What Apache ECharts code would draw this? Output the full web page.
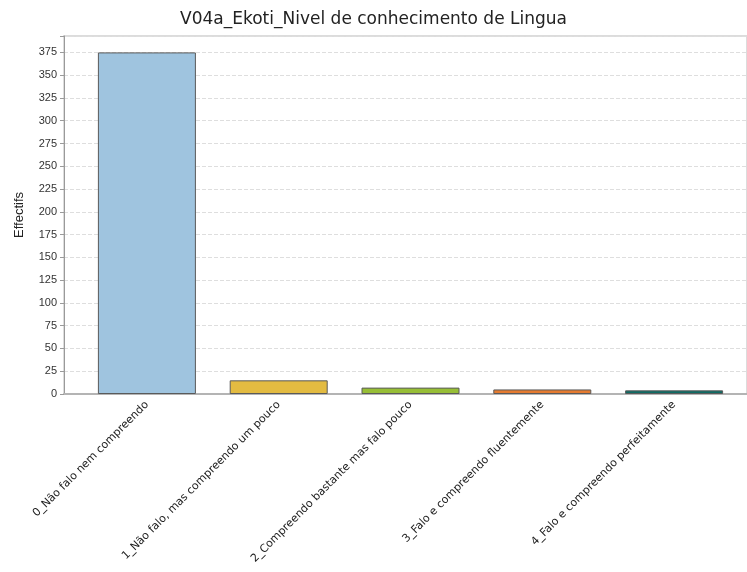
<!DOCTYPE html>
<html>
<head>
<meta charset="utf-8">
<script src="https://cdn.jsdelivr.net/npm/echarts@6/dist/echarts.min.js"></script>
<style>
  html, body { margin: 0; padding: 0; background: #fff; }
  #chart { width: 747px; height: 572px; }
</style>
</head>
<body>
<div id="chart"></div>
<script>
// ====== data ======
const categories = [
  "0_Não falo nem compreendo",
  "1_Não falo, mas compreendo um pouco",
  "2_Compreendo bastante mas falo pouco",
  "3_Falo e compreendo fluentemente",
  "4_Falo e compreendo perfeitamente"
];
const counts = [375, 15, 7, 5, 4];
const barColors = ["#9fc4df", "#e3bb41", "#97be36", "#e57b30", "#0f6b64"];

const yMax = 393;

const chart = echarts.init(document.getElementById("chart"));

const option = {
  animation: false,
  title: {
    text: "V04a_Ekoti_Nivel de conhecimento de Lingua",
    left: "center",
    top: 6,
    textStyle: { fontFamily: "DejaVu Sans", fontSize: 17, fontWeight: "normal", color: "#222" }
  },
  grid: [
    // frame grid: spans from the y axis to the right edge
    { left: 64, right: -4, top: 36, bottom: 178, show: true, borderColor: "#dcdcdc", borderWidth: 2 },
    // bars grid
    { left: 81, right: 7, top: 36, bottom: 178 }
  ],
  xAxis: [
    {
      type: "value", gridIndex: 0, min: 0, max: 1,
      axisLine: { show: true, lineStyle: { color: "#b4b4b4", width: 2 } },
      axisTick: { show: false },
      axisLabel: { show: false },
      splitLine: { show: false }
    },
    {
      type: "category", gridIndex: 1, data: categories,
      axisLine: { show: false },
      axisTick: { show: false },
      axisLabel: {
        rotate: 45, margin: 9, interval: 0,
        fontFamily: "DejaVu Sans", fontSize: 11, color: "#222"
      }
    }
  ],
  yAxis: [
    {
      type: "value", gridIndex: 0, min: 0, max: yMax, interval: 25,
      name: "Effectifs", nameLocation: "middle", nameGap: 38,
      nameTextStyle: { fontFamily: "Liberation Sans", fontSize: 13, color: "#222" },
      axisLine: { show: true, lineStyle: { color: "#9a9a9a" } },
      axisTick: { show: true, length: 4, lineStyle: { color: "#9a9a9a" } },
      axisLabel: {
        margin: 7, fontFamily: "Liberation Sans", fontSize: 11, color: "#333",
        formatter: (v) => (v % 25 === 0 ? String(v) : "")
      },
      splitLine: { show: true, lineStyle: { type: "dashed", color: "#dedede" } }
    },
    {
      type: "value", gridIndex: 1, min: 0, max: yMax, show: false
    }
  ],
  series: [
    {
      type: "bar",
      xAxisIndex: 1,
      yAxisIndex: 1,
      barWidth: 98,
      data: counts.map((v, i) => ({
        value: v,
        itemStyle: { color: barColors[i], borderColor: "#5a5a5a", borderWidth: 1 }
      }))
    }
  ]
};

chart.setOption(option);
</script>
</body>
</html>
